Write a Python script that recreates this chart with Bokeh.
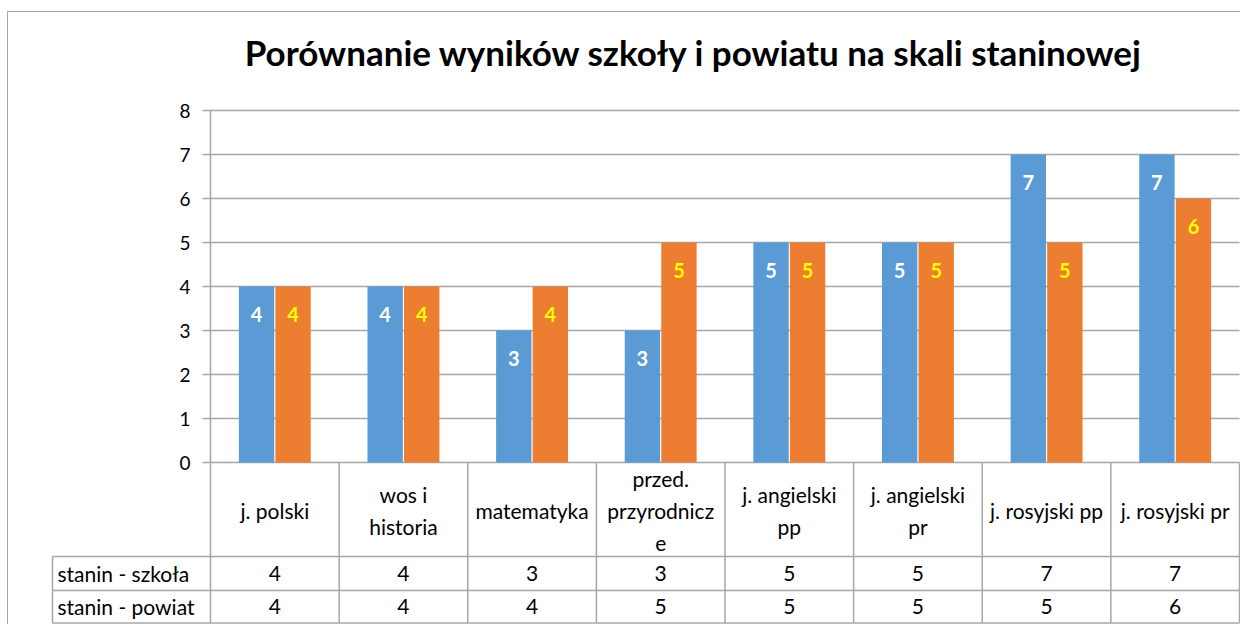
import numpy as np
from bokeh.plotting import figure
from bokeh.models import Range1d, FixedTicker, Label
from bokeh.core.properties import value
from bokeh.embed import file_html
from bokeh.resources import INLINE

# ---------------- data ----------------
title_text = "Porównanie wyników szkoły i powiatu na skali staninowej"
categories = ["j. polski", "wos i\nhistoria", "matematyka", "przed.\nprzyrodnicz\ne",
              "j. angielski\npp", "j. angielski\npr", "j. rosyjski pp", "j. rosyjski pr"]
series_names = ["stanin - szkoła", "stanin - powiat"]
szkola = [4, 4, 3, 3, 5, 5, 7, 7]
powiat = [4, 4, 4, 5, 5, 5, 5, 6]
y_ticks = [0, 1, 2, 3, 4, 5, 6, 7, 8]

# ---------------- style / layout ----------------
BLUE = "#5B9BD5"
ORANGE = "#ED7D31"
GRID = "#A6A6A6"
FONT = "Lato"

W, H = 1240, 624
AX0 = 210.0               # picture px of x=0
CAT_W = (1239.0 - AX0) / 8
Y0 = 462.0                # picture px of y=0
UNIT = 44.0               # px per y unit
LEFT_BORDER = 40
FRAME_L, FRAME_R = LEFT_BORDER, W
FRAME_T, FRAME_B = 0, H


def px_x(px):
    return (px - AX0) / CAT_W


def px_y(py):
    return (Y0 - py) / UNIT


n = len(categories)
idx = np.arange(n)
bw = 0.275
off = 0.142

# outer chart border drawn as host background behind a transparent canvas
bg = ("linear-gradient(#A6A6A6,#A6A6A6) 7px 11px / 1px 100% no-repeat, "
      "linear-gradient(#A6A6A6,#A6A6A6) 7px 11px / 100% 1px no-repeat, white")

p = figure(width=W, height=H,
           x_range=Range1d(px_x(FRAME_L), px_x(FRAME_R)),
           y_range=Range1d(px_y(FRAME_B), px_y(FRAME_T)),
           output_backend="svg", toolbar_location=None,
           x_axis_location=None, y_axis_location="left",
           min_border_left=LEFT_BORDER, min_border_right=0, min_border_top=0, min_border_bottom=0,
           outline_line_color=None, background_fill_color=None, border_fill_color=None,
           styles={"background": bg})
p.grid.visible = False

p.add_layout(Label(x=px_x(693.5), y=px_y(51), text=title_text,
                   text_align="center", text_baseline="alphabetic",
                   text_font=FONT, text_font_size="35px", text_font_style="bold",
                   text_color="black"))

ax = p.yaxis[0]
ax.fixed_location = 0
ax.bounds = (0, 8)
ax.ticker = FixedTicker(ticks=y_ticks)
ax.major_tick_out = 8
ax.major_tick_in = 0
ax.minor_tick_out = 0
ax.minor_tick_in = 0
ax.axis_line_color = GRID
ax.axis_line_width = 1.5
ax.major_tick_line_color = GRID
ax.major_tick_line_width = 1.5
ax.major_label_text_font = FONT
ax.major_label_text_font_size = "19px"
ax.major_label_text_color = "black"
ax.major_label_standoff = 12

# gridlines
p.segment(x0=0, x1=n, y0=y_ticks, y1=y_ticks, line_color=GRID, line_width=1.5)

# bars
p.vbar(x=idx + 0.5 - off, top=szkola, bottom=0, width=bw, fill_color=BLUE, line_color=None)
p.vbar(x=idx + 0.5 + off, top=powiat, bottom=0, width=bw, fill_color=ORANGE, line_color=None)

# data labels
p.text(x=idx + 0.5 - off, y=np.array(szkola) - 0.63, text=[str(v) for v in szkola],
       text_align="center", text_baseline="middle", text_color="white",
       text_font=value(FONT), text_font_style="bold", text_font_size="20px")
p.text(x=idx + 0.5 + off, y=np.array(powiat) - 0.63, text=[str(v) for v in powiat],
       text_align="center", text_baseline="middle", text_color="#FFFF00",
       text_font=value(FONT), text_font_style="bold", text_font_size="20px")

# data table
row_top, row_mid, row_bot = 556.0, 590.0, 622.5
left_col = px_x(52)
p.segment(x0=idx[1:], x1=idx[1:], y0=0, y1=px_y(row_bot), line_color=GRID, line_width=1.5)
p.segment(x0=[0, n], x1=[0, n], y0=0, y1=px_y(row_bot), line_color=GRID, line_width=1.5)
p.segment(x0=[left_col], x1=[left_col], y0=px_y(row_top), y1=px_y(row_bot),
          line_color=GRID, line_width=1.5)
p.segment(x0=left_col, x1=n, y0=[px_y(row_top), px_y(row_mid), px_y(row_bot)],
          y1=[px_y(row_top), px_y(row_mid), px_y(row_bot)], line_color=GRID, line_width=1.5)

p.text(x=idx + 0.5, y=px_y(510), text=categories, text_align="center", text_baseline="middle",
       text_color="black", text_font=value(FONT), text_font_size="21px", text_line_height=1.29)

r1 = px_y((row_top + row_mid) / 2)
r2 = px_y((row_mid + row_bot) / 2)
p.text(x=px_x(57), y=[r1, r2], text=series_names, text_align="left", text_baseline="middle",
       text_color="black", text_font=value(FONT), text_font_size="21px")
p.text(x=idx + 0.5, y=r1, text=[str(v) for v in szkola], text_align="center", text_baseline="middle",
       text_color="black", text_font=value(FONT), text_font_size="21px")
p.text(x=idx + 0.5, y=r2, text=[str(v) for v in powiat], text_align="center", text_baseline="middle",
       text_color="black", text_font=value(FONT), text_font_size="21px")

open("out.html", "w").write(file_html(p, INLINE))
